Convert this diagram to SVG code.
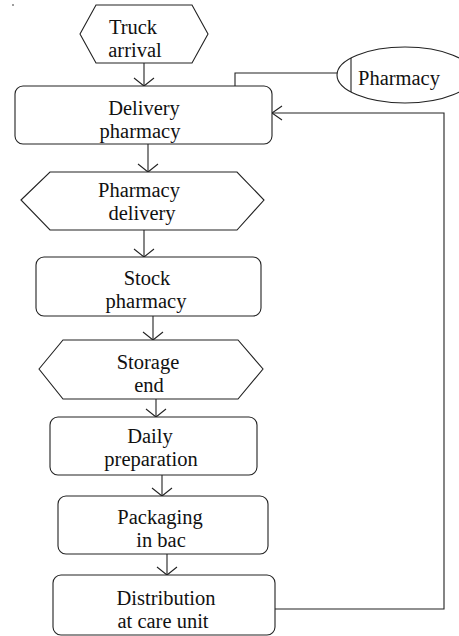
<svg xmlns="http://www.w3.org/2000/svg" width="459" height="636" viewBox="0 0 459 636">
<defs>
<style>
.s{fill:#fff;stroke:#222;stroke-width:1.1}
.c{fill:none;stroke:#222;stroke-width:1.1}
text{font-family:"Liberation Serif","Times New Roman",serif;font-size:20.5px;fill:#111;text-anchor:middle}
</style>
<marker id="av" markerUnits="userSpaceOnUse" markerWidth="24" markerHeight="24" refX="0" refY="0" viewBox="-12 -12 24 24" orient="auto" overflow="visible">
<path d="M-8,-10 L0,0 L-8,10" fill="none" stroke="#222" stroke-width="1.1"/>
</marker>
<marker id="ah" markerUnits="userSpaceOnUse" markerWidth="24" markerHeight="24" refX="0" refY="0" viewBox="-12 -12 24 24" orient="auto" overflow="visible">
<path d="M-10,-7 L0,0 L-10,7" fill="none" stroke="#222" stroke-width="1.1"/>
</marker>
</defs>
<rect width="459" height="636" fill="#fff"/>
<circle cx="13" cy="5" r="0.8" fill="#222"/>
<g id="connectors">
<path class="c" d="M144,63 V86" marker-end="url(#av)"/>
<path class="c" d="M338,73 H235 V86"/>
<path class="c" d="M148,144 V172" marker-end="url(#av)"/>
<path class="c" d="M144,230 V257" marker-end="url(#av)"/>
<path class="c" d="M153,316 V340" marker-end="url(#av)"/>
<path class="c" d="M156,399 V417" marker-end="url(#av)"/>
<path class="c" d="M162,475 V496" marker-end="url(#av)"/>
<path class="c" d="M167,554 V575" marker-end="url(#av)"/>
<path class="c" d="M275,609 H444 V113 H272" marker-end="url(#ah)"/>
</g>
<g id="truck-arrival">
<polygon class="s" points="80,34 96,5 192,5 208,34 192,63 96,63"/>
<text x="133" y="34">Truck</text>
<text x="135" y="57">arrival</text>
</g>
<g id="pharmacy-source">
<ellipse class="s" cx="405" cy="75" rx="68" ry="28"/>
<line class="c" x1="351" y1="58" x2="351" y2="92"/>
<text x="399" y="85">Pharmacy</text>
</g>
<g id="delivery-pharmacy">
<rect class="s" x="15" y="86" width="257" height="58" rx="8"/>
<text x="144" y="114.5">Delivery</text>
<text x="140" y="137.5">pharmacy</text>
</g>
<g id="pharmacy-delivery">
<polygon class="s" points="21,200 50,172 237,172 264,200 237,230 50,230"/>
<text x="139" y="197">Pharmacy</text>
<text x="142" y="220">delivery</text>
</g>
<g id="stock-pharmacy">
<rect class="s" x="36" y="257" width="225" height="59" rx="8"/>
<text x="147" y="284.5">Stock</text>
<text x="146" y="307.5">pharmacy</text>
</g>
<g id="storage-end">
<polygon class="s" points="39,369 63,340 238,340 263,369 238,399 63,399"/>
<text x="148" y="369">Storage</text>
<text x="149" y="392">end</text>
</g>
<g id="daily-preparation">
<rect class="s" x="50" y="417" width="207" height="58" rx="8"/>
<text x="150" y="442.5">Daily</text>
<text x="151" y="465.5">preparation</text>
</g>
<g id="packaging">
<rect class="s" x="58" y="496" width="210" height="58" rx="8"/>
<text x="160" y="524">Packaging</text>
<text x="161" y="547">in bac</text>
</g>
<g id="distribution">
<rect class="s" x="53" y="575" width="222" height="60" rx="8"/>
<text x="166" y="605">Distribution</text>
<text x="163" y="628">at care unit</text>
</g>
</svg>
